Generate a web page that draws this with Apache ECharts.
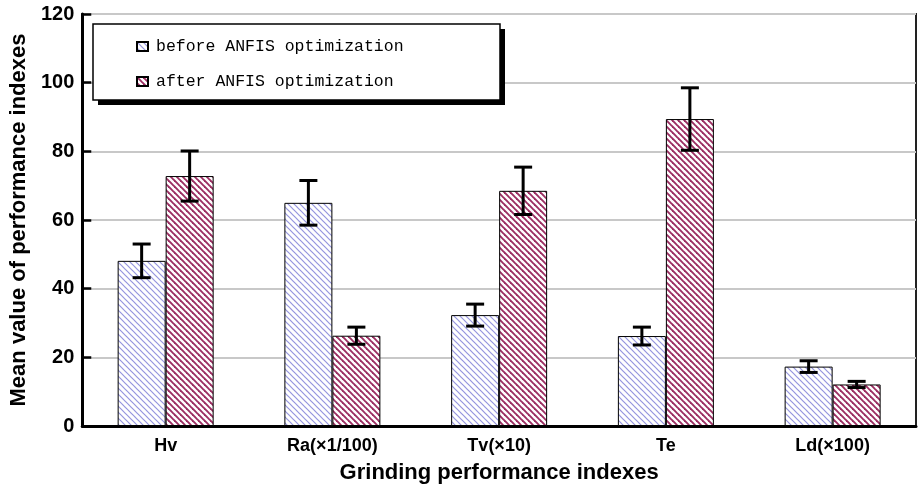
<!DOCTYPE html>
<html>
<head>
<meta charset="utf-8">
<script src="https://cdn.jsdelivr.net/npm/echarts@6/dist/echarts.min.js"></script>
<style>html,body{margin:0;padding:0;background:#fff}#c{width:919px;height:492px}</style>
</head>
<body>
<div id="c"></div>
<script>
var categories = ['Hv', 'Ra(×1/100)', 'Tv(×10)', 'Te', 'Ld(×100)'];
var seriesNames = ['before ANFIS optimization', 'after ANFIS optimization'];
var beforeValues = [48.1, 65.0, 32.3, 26.2, 17.3];
var beforeErrors = [4.9, 6.5, 3.2, 2.6, 1.7];
var afterValues = [72.8, 26.3, 68.5, 89.4, 12.1];
var afterErrors = [7.3, 2.5, 6.9, 9.1, 0.9];
var yTicks = [0, 20, 40, 60, 80, 100, 120];

function makePattern(color, lw) {
  var s = 6;
  var c = document.createElement('canvas');
  c.width = s; c.height = s;
  var g = c.getContext('2d');
  g.fillStyle = '#fff';
  g.fillRect(0, 0, s, s);
  g.strokeStyle = color;
  g.lineWidth = lw;
  g.lineCap = 'square';
  for (var k = -1; k <= 1; k++) {
    g.beginPath();
    g.moveTo(k * s, 0);
    g.lineTo(k * s + s, s);
    g.stroke();
  }
  return {image: c, repeat: 'repeat'};
}
var patBefore = makePattern('#9595de', 1.2);
var patAfter = makePattern('#9c2e62', 1.9);

var BAR_W = 48;
function errSeries(vals, errs, offset) {
  return {
    type: 'custom',
    silent: true,
    z: 5,
    data: vals.map(function (v, i) { return [i, v, errs[i]]; }),
    renderItem: function (params, api) {
      var i = api.value(0), v = api.value(1), e = api.value(2);
      var top = api.coord([i, v + e]);
      var bot = api.coord([i, v - e]);
      var x = top[0] + offset;
      var hw = 9;
      var st = {stroke: '#000', lineWidth: 3};
      return {
        type: 'group',
        children: [
          {type: 'line', shape: {x1: x, y1: top[1], x2: x, y2: bot[1]}, style: st},
          {type: 'line', shape: {x1: x - hw, y1: top[1], x2: x + hw, y2: top[1]}, style: st},
          {type: 'line', shape: {x1: x - hw, y1: bot[1], x2: x + hw, y2: bot[1]}, style: st}
        ]
      };
    }
  };
}

var chart = echarts.init(document.getElementById('c'), null, {renderer: 'canvas'});
chart.setOption({
  animation: false,
  backgroundColor: '#fff',
  grid: {left: 79, right: 3, top: 14, bottom: 66, show: true, borderColor: '#222', borderWidth: 2},
  graphic: [
    {type: 'rect', z: 3, shape: {x: 98, y: 29, width: 407, height: 76}, style: {fill: '#000'}},
    {type: 'rect', z: 3, shape: {x: 93, y: 24, width: 407, height: 76}, style: {fill: '#fff', stroke: '#000', lineWidth: 1.5}}
  ],
  legend: {
    orient: 'vertical',
    left: 131,
    top: 33,
    z: 10,
    icon: 'rect',
    itemWidth: 11,
    itemHeight: 9,
    itemGap: 18,
    data: seriesNames,
    textStyle: {fontFamily: 'Liberation Mono', fontSize: 16.5, color: '#000', lineHeight: 17, padding: [0, 0, 0, 3]}
  },
  xAxis: {
    type: 'category',
    data: categories,
    axisLine: {lineStyle: {color: '#000', width: 3}},
    axisTick: {inside: true, length: 6, lineStyle: {color: '#000', width: 2}},
    axisLabel: {color: '#000', fontFamily: 'Liberation Sans', fontWeight: 'bold', fontSize: 18, margin: 11},
    name: 'Grinding performance indexes',
    nameLocation: 'middle',
    nameGap: 36,
    nameTextStyle: {color: '#000', fontFamily: 'Liberation Sans', fontWeight: 'bold', fontSize: 22}
  },
  yAxis: {
    type: 'value',
    min: yTicks[0],
    max: yTicks[yTicks.length - 1],
    interval: 20,
    axisLine: {show: true, lineStyle: {color: '#000', width: 3}},
    axisTick: {show: true, inside: true, length: 9, lineStyle: {color: '#000', width: 2.5}},
    axisLabel: {color: '#000', fontFamily: 'Liberation Sans', fontWeight: 'bold', fontSize: 20, margin: 8},
    splitLine: {show: true, lineStyle: {color: '#c8c8c8', width: 2}},
    name: 'Mean value of performance indexes',
    nameLocation: 'middle',
    nameGap: 44,
    nameTextStyle: {color: '#000', fontFamily: 'Liberation Sans', fontWeight: 'bold', fontSize: 22}
  },
  series: [
    {
      name: seriesNames[0], type: 'bar', data: beforeValues, barWidth: BAR_W, barGap: '0%',
      itemStyle: {color: patBefore, borderColor: '#000', borderWidth: 1}
    },
    {
      name: seriesNames[1], type: 'bar', data: afterValues, barWidth: BAR_W, barGap: '0%',
      itemStyle: {color: patAfter, borderColor: '#000', borderWidth: 1}
    },
    errSeries(beforeValues, beforeErrors, -BAR_W / 2),
    errSeries(afterValues, afterErrors, BAR_W / 2)
  ]
});
</script>
</body>
</html>
